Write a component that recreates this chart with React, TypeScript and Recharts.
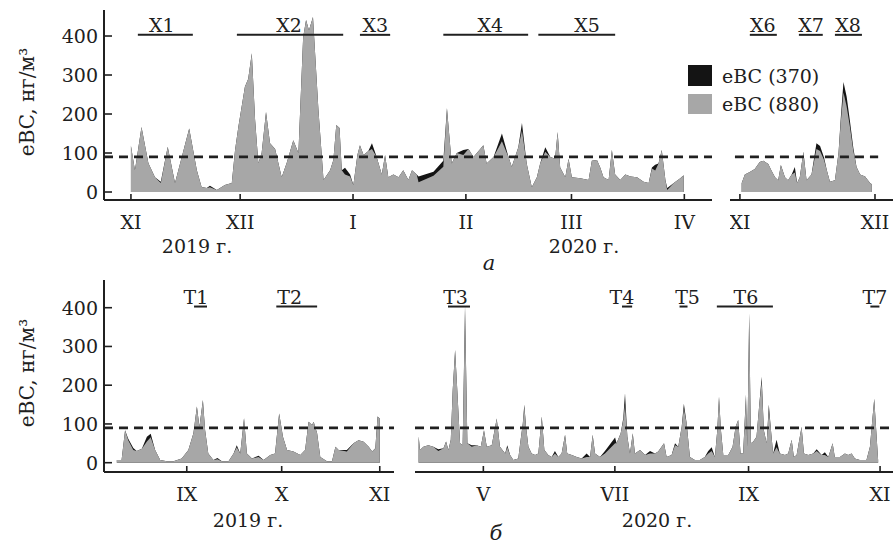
import { AreaChart, Area, XAxis, YAxis, ReferenceLine, ReferenceDot } from "recharts";

const INK = "#202020";
const GRAY = "#a7a7a7";
const DARK = "#141414";
const FONT = "'DejaVu Serif', 'Liberation Serif', serif";

// а) winter 2019-2020, day 0 = 1 Nov 2019
const winterDays = [
  0, 1.1, 2.9, 4.8, 6.6, 8.2, 10.1, 12.1, 16.0, 18.1,
  19.4, 20.8, 21.7, 23.6, 25.8, 27.7, 28.6, 29.5, 31.3, 32.2,
  33.2, 34.1, 35.0, 35.9, 37.1, 38.2, 39.6, 41.4, 42.8, 44.6,
  46.0, 47.3, 48.1, 48.9, 50.0, 51.5, 52.9, 54.7, 55.6, 56.4,
  57.3, 57.9, 58.8, 60.2, 61.1, 62.2, 62.9, 63.9, 65.2, 66.2,
  67.5, 68.9, 69.8, 70.7, 72.1, 73.5, 74.8, 76.2, 77.2, 78.5,
  79.0, 83.1, 85.8, 86.8, 88.1, 89.5, 91.3, 92.7, 94.1, 96.8,
  97.7, 99.6, 101.9, 103.7, 104.6, 106.4, 107.4, 108.7, 110.1, 111.5,
  112.4, 113.8, 115.2, 116.5, 117.2, 117.9, 119.3, 120.2, 121.1, 123.4,
  125.7, 126.6, 128.0, 128.9, 129.8, 131.2, 132.1, 133.0, 134.4, 135.8,
  137.2, 139.0, 140.8, 142.2, 143.1, 144.0, 144.9, 145.8, 146.8, 147.3,
  149.1, 150.9, 151.8,
];
const winter880 = [
  120, 56, 167, 74, 38, 23, 116, 23, 163, 56,
  13, 10, 12, 5, 18, 23, 108, 167, 270, 290,
  356, 185, 74, 100, 205, 125, 110, 38, 75, 133,
  100, 397, 441, 415, 449, 210, 31, 56, 82, 172,
  164, 56, 45, 40, 18, 95, 120, 95, 105, 110,
  90, 45, 95, 38, 45, 38, 56, 31, 56, 45,
  25, 42, 65, 215, 73, 100, 95, 110, 90, 120,
  73, 90, 130, 90, 65, 115, 158, 73, 12, 38,
  73, 103, 90, 85, 154, 63, 38, 85, 38, 35,
  31, 80, 82, 63, 38, 31, 108, 45, 31, 45,
  40, 38, 26, 23, 60, 55, 73, 108, 31, 5,
  23, 35, 43,
];
const winter370 = [
  118, 56, 167, 74, 38, 26, 116, 23, 163, 56,
  13, 10, 16, 5, 18, 23, 108, 167, 270, 290,
  356, 185, 74, 100, 205, 125, 110, 38, 75, 133,
  100, 397, 441, 415, 449, 210, 31, 56, 82, 172,
  164, 56, 62, 45, 18, 95, 120, 95, 105, 125,
  90, 45, 95, 38, 45, 38, 56, 31, 56, 45,
  40, 52, 80, 215, 73, 100, 108, 110, 90, 120,
  73, 90, 150, 90, 65, 115, 177, 73, 12, 38,
  73, 115, 90, 85, 154, 63, 38, 85, 38, 35,
  31, 80, 82, 63, 38, 31, 108, 45, 31, 45,
  40, 38, 26, 23, 63, 70, 73, 108, 31, 10,
  23, 35, 43,
];
const winterTicks = [0, 30, 61, 92, 121, 152];
const winterMonths = ["XI", "XII", "I", "II", "III", "IV"];
const winterEpisodes = ["X1", "X2", "X3", "X4", "X5"];
const winterEpisodeStart = [1.9, 29.1, 62.9, 85.8, 111.9];
const winterEpisodeEnd = [17.0, 58.3, 71.2, 109.1, 133.0];
const winterEpisodeLabel = [8.5, 43.4, 67.1, 98.7, 125.3];

// а) November 2020, day 0 = 1 Nov 2020
const novDays = [
  0.4, 1.1, 2.2, 3.3, 4.4, 5.2, 6.3, 7.0, 7.8, 8.5,
  9.1, 10.0, 10.7, 11.5, 12.2, 12.7, 13.3, 14.1, 14.8, 15.9,
  17.0, 17.8, 18.7, 19.3, 20.0, 21.1, 21.9, 22.4, 23.0, 23.7,
  24.4, 25.2, 25.9, 26.7, 27.8, 28.9, 29.3,
];
const nov880 = [
  23, 45, 51, 59, 77, 80, 72, 55, 38, 30,
  69, 38, 30, 45, 50, 23, 38, 103, 30, 45,
  110, 105, 82, 56, 26, 30, 100, 180, 255, 220,
  170, 105, 64, 45, 40, 23, 20,
];
const nov370 = [
  23, 45, 51, 59, 77, 80, 72, 55, 38, 30,
  69, 38, 30, 45, 64, 23, 38, 103, 30, 45,
  125, 118, 88, 56, 26, 30, 100, 190, 282, 245,
  185, 112, 64, 45, 40, 23, 20,
];
const novTicks = [0, 30];
const novMonths = ["XI", "XII"];
const novEpisodes = ["X6", "X7", "X8"];
const novEpisodeStart = [2.2, 13.1, 21.1];
const novEpisodeEnd = [8.2, 18.4, 27.1];
const novEpisodeLabel = [5.1, 15.8, 24.0];

// б) Aug-Oct 2019, day 0 = 1 Aug 2019
const warm19Days = [
  8.9, 10.4, 11.5, 12.5, 14.1, 15.2, 16.8, 18.4, 19.6, 21.0,
  22.6, 24.7, 26.8, 29.4, 31.5, 33.1, 34.2, 35.0, 36.1, 36.8,
  37.8, 39.4, 40.7, 42.1, 44.2, 45.8, 46.8, 47.9, 49.1, 50.0,
  51.6, 53.7, 55.3, 57.4, 58.9, 60.2, 61.4, 62.7, 64.7, 66.9,
  68.4, 69.5, 70.6, 71.1, 72.2, 73.2, 75.3, 76.9, 78.0, 79.0,
  81.6, 83.7, 85.3, 86.9, 88.5, 89.6, 90.6, 91.3, 92.0,
];
const warm19_880 = [
  7, 7, 84, 58, 33, 30, 36, 55, 66, 33,
  7, 4, 4, 11, 33, 76, 145, 93, 162, 84,
  24, 7, 9, 4, 4, 24, 40, 24, 115, 24,
  11, 15, 7, 20, 24, 127, 67, 33, 29, 20,
  33, 106, 97, 106, 76, 15, 4, 4, 41, 33,
  29, 50, 58, 54, 41, 29, 37, 119, 114,
];
const warm19_370 = [
  7, 7, 84, 62, 38, 30, 36, 67, 75, 33,
  7, 4, 4, 11, 33, 76, 145, 93, 162, 84,
  24, 7, 12, 4, 4, 24, 45, 24, 115, 24,
  11, 18, 7, 20, 24, 127, 67, 33, 29, 20,
  33, 106, 97, 106, 76, 15, 4, 4, 41, 33,
  33, 50, 58, 54, 41, 29, 37, 119, 114,
];
const warm19Ticks = [31, 61, 92];
const warm19Months = ["IX", "X", "XI"];
const warm19Episodes = ["T1", "T2"];
const warm19EpisodeStart = [33.3, 59.3];
const warm19EpisodeEnd = [37.4, 72.2];
const warm19EpisodeLabel = [33.9, 63.5];

// б) Apr-Oct 2020, day 0 = 1 Apr 2020
const warm20Days = [
  0, 0.6, 2.2, 4.5, 6.8, 9.1, 11.5, 12.7, 13.8, 14.9,
  15.8, 16.9, 17.9, 19.2, 20.4, 21.5, 22.6, 24.6, 26.9, 28.8,
  30.3, 31.6, 33.9, 36.2, 37.7, 40.1, 41.1, 42.4, 43.9, 46.2,
  47.3, 48.3, 49.0, 49.8, 50.9, 52.4, 54.0, 55.5, 57.1, 58.3,
  60.1, 61.7, 63.2, 64.8, 66.3, 67.9, 68.9, 71.0, 73.3, 75.6,
  77.9, 79.5, 80.7, 81.8, 84.1, 86.4, 91.1, 91.8, 93.7, 94.9,
  95.7, 96.8, 98.0, 99.3, 100.3, 102.7, 105.0, 107.3, 109.6, 111.1,
  113.8, 115.0, 117.3, 118.9, 120.4, 122.0, 123.0, 124.3, 125.8, 128.1,
  130.4, 132.7, 134.3, 135.9, 137.4, 138.5, 139.3, 140.2, 141.3, 143.6,
  145.6, 147.0, 148.2, 149.3, 150.5, 151.8, 152.4, 153.3, 154.1, 155.2,
  156.7, 157.9, 159.1, 160.1, 161.4, 162.4, 163.4, 164.4, 166.0, 167.5,
  169.9, 171.4, 173.0, 174.0, 175.3, 177.6, 178.7, 180.7, 183.0, 184.6,
  186.9, 188.4, 190.0, 192.0, 193.0, 195.4, 197.7, 199.2, 200.8, 202.3,
  204.6, 207.7, 209.3, 210.4, 211.3, 212.4, 213.1,
];
const warm20_880 = [
  68, 33, 41, 45, 41, 30, 37, 55, 33, 59,
  188, 291, 188, 50, 45, 395, 50, 41, 45, 41,
  84, 41, 45, 114, 41, 24, 40, 20, 7, 11,
  59, 101, 145, 93, 41, 24, 20, 24, 119, 33,
  20, 15, 24, 15, 24, 72, 24, 20, 15, 11,
  15, 15, 72, 24, 15, 24, 50, 50, 76, 110,
  150, 67, 24, 76, 24, 33, 20, 24, 24, 29,
  50, 15, 20, 45, 41, 93, 140, 101, 15, 7,
  7, 15, 24, 30, 15, 84, 170, 84, 20, 20,
  41, 93, 110, 24, 24, 170, 41, 385, 50, 55,
  67, 145, 210, 84, 50, 140, 84, 24, 40, 24,
  20, 24, 59, 15, 20, 93, 24, 20, 24, 30,
  20, 20, 15, 50, 15, 15, 24, 20, 24, 11,
  7, 7, 41, 110, 165, 67, 7,
];
const warm20_370 = [
  68, 33, 41, 45, 41, 35, 37, 55, 33, 59,
  188, 291, 188, 50, 45, 405, 50, 45, 45, 41,
  84, 41, 45, 114, 41, 24, 45, 20, 7, 11,
  59, 101, 150, 93, 41, 24, 20, 24, 119, 33,
  20, 15, 30, 15, 24, 72, 24, 20, 15, 11,
  24, 15, 72, 24, 15, 30, 65, 50, 76, 115,
  179, 67, 24, 76, 24, 33, 20, 30, 24, 29,
  50, 15, 20, 50, 41, 93, 152, 101, 15, 7,
  7, 15, 30, 40, 15, 84, 170, 84, 20, 20,
  41, 93, 110, 24, 24, 176, 41, 385, 50, 55,
  67, 145, 222, 84, 50, 150, 84, 24, 59, 24,
  20, 24, 59, 15, 20, 93, 24, 20, 24, 35,
  20, 27, 15, 50, 15, 15, 24, 20, 24, 11,
  7, 7, 41, 110, 165, 67, 7,
];
const warm20Ticks = [30, 91, 153, 214];
const warm20Months = ["V", "VII", "IX", "XI"];
const warm20Episodes = ["T3", "T4", "T5", "T6", "T7"];
const warm20EpisodeStart = [13.6, 94.3, 121.0, 138.3, 209.5];
const warm20EpisodeEnd = [23.8, 99.0, 124.7, 164.3, 213.7];
const warm20EpisodeLabel = [17.1, 94.3, 124.7, 151.8, 211.6];

const valueTicks = [0, 100, 200, 300, 400];
const threshold = 90;
const episodeLevel = 403;

function MonthTick({ x, y, payload, ticks, months }: any) {
  const name = months[ticks.indexOf(payload.value)];
  return (
    <g>
      <line x1={x} y1={y} x2={x} y2={y - 6} stroke={INK} strokeWidth={1.6} />
      <text x={x} y={y + 29} textAnchor="middle" fill={INK} fontSize={19} fontFamily={FONT}>
        {name}
      </text>
    </g>
  );
}

function ValueTick({ x, y, payload }: any) {
  return (
    <g>
      <line x1={x} y1={y} x2={x + 8} y2={y} stroke={INK} strokeWidth={1.6} />
      <text x={x - 6} y={y} dy="0.36em" textAnchor="end" fill={INK} fontSize={19} fontFamily={FONT}>
        {payload.value}
      </text>
    </g>
  );
}

function Panel(p: any) {
  const rows = p.days.map((day: number, i: number) => ({ day, c880: p.v880[i], c370: p.v370[i] }));
  return (
    <div style={{ position: "absolute", left: p.left, top: p.top }}>
      <AreaChart
        width={p.width}
        height={10 + p.plotHeight + 42}
        data={rows}
        margin={{ top: 10, right: 0, bottom: 0, left: 0 }}
      >
        <XAxis
          type="number"
          dataKey="day"
          domain={p.xDomain}
          allowDataOverflow
          ticks={p.ticks}
          interval={0}
          height={42}
          tickLine={false}
          tickSize={0}
          tickMargin={0}
          axisLine={{ stroke: INK, strokeWidth: 2 }}
          tick={(t: any) => <MonthTick {...t} ticks={p.ticks} months={p.months} />}
        />
        {p.showY ? (
          <YAxis
            type="number"
            domain={p.yDomain}
            allowDataOverflow
            ticks={valueTicks}
            interval={0}
            width={104}
            tickLine={false}
            tickSize={0}
            tickMargin={0}
            axisLine={{ stroke: INK, strokeWidth: 2 }}
            tick={(t: any) => <ValueTick {...t} />}
          />
        ) : (
          <YAxis type="number" hide domain={p.yDomain} allowDataOverflow />
        )}
        <Area
          type="linear"
          dataKey="c370"
          name="eBC (370)"
          stroke="none"
          fill={DARK}
          fillOpacity={1}
          baseValue={0}
          dot={false}
          activeDot={false}
          isAnimationActive={false}
        />
        <Area
          type="linear"
          dataKey="c880"
          name="eBC (880)"
          stroke="none"
          fill={GRAY}
          fillOpacity={1}
          baseValue={0}
          dot={false}
          activeDot={false}
          isAnimationActive={false}
        />
        {p.dash ? (
          <ReferenceLine
            segment={[
              { x: p.dash[0], y: threshold },
              { x: p.dash[1], y: threshold },
            ]}
            stroke={INK}
            strokeWidth={2.6}
            strokeDasharray="9 6"
          />
        ) : (
          <ReferenceLine y={threshold} stroke={INK} strokeWidth={2.6} strokeDasharray="9 6" />
        )}
        {p.episodes.map((name: string, i: number) => (
          <ReferenceLine
            key={"l" + name}
            segment={[
              { x: p.starts[i], y: episodeLevel },
              { x: p.ends[i], y: episodeLevel },
            ]}
            stroke={INK}
            strokeWidth={2}
          />
        ))}
        {p.episodes.map((name: string, i: number) => (
          <ReferenceDot
            key={"t" + name}
            x={p.labelAt[i]}
            y={episodeLevel}
            r={0}
            fill="none"
            stroke="none"
            label={{ value: name, position: "top", offset: 3, fill: INK, fontSize: 19, fontFamily: FONT }}
          />
        ))}
      </AreaChart>
    </div>
  );
}

export default function App() {
  const txt = { fill: INK, fontFamily: FONT, fontSize: 19 } as const;
  return (
    <div style={{ position: "absolute", left: 0, top: 0, width: 893, height: 547, background: "#fff", overflow: "hidden" }}>
      <Panel
        left={0}
        top={0}
        width={712}
        plotHeight={190}
        showY
        xDomain={[-7.4, 159.6]}
        yDomain={[-20.5, 466.7]}
        days={winterDays}
        v880={winter880}
        v370={winter370}
        ticks={winterTicks}
        months={winterMonths}
        episodes={winterEpisodes}
        starts={winterEpisodeStart}
        ends={winterEpisodeEnd}
        labelAt={winterEpisodeLabel}
      />
      <Panel
        left={730}
        top={0}
        width={163}
        plotHeight={190}
        xDomain={[-2.2, 34]}
        yDomain={[-20.5, 466.7]}
        dash={[-1.1, 30.7]}
        days={novDays}
        v880={nov880}
        v370={nov370}
        ticks={novTicks}
        months={novMonths}
        episodes={novEpisodes}
        starts={novEpisodeStart}
        ends={novEpisodeEnd}
        labelAt={novEpisodeLabel}
      />
      <Panel
        left={0}
        top={270}
        width={394}
        plotHeight={192}
        showY
        xDomain={[4.84, 96.5]}
        yDomain={[-24, 471.5]}
        days={warm19Days}
        v880={warm19_880}
        v370={warm19_370}
        ticks={warm19Ticks}
        months={warm19Months}
        episodes={warm19Episodes}
        starts={warm19EpisodeStart}
        ends={warm19EpisodeEnd}
        labelAt={warm19EpisodeLabel}
      />
      <Panel
        left={415}
        top={270}
        width={478}
        plotHeight={192}
        xDomain={[-1.7, 220]}
        yDomain={[-24, 471.5]}
        days={warm20Days}
        v880={warm20_880}
        v370={warm20_370}
        ticks={warm20Ticks}
        months={warm20Months}
        episodes={warm20Episodes}
        starts={warm20EpisodeStart}
        ends={warm20EpisodeEnd}
        labelAt={warm20EpisodeLabel}
      />
      <svg width={893} height={547} style={{ position: "absolute", left: 0, top: 0, pointerEvents: "none" }}>
        <text {...txt} fontSize={20} transform="translate(34,102) rotate(-90)" textAnchor="middle">eBC, нг/м³</text>
        <text {...txt} fontSize={20} transform="translate(34,373) rotate(-90)" textAnchor="middle">eBC, нг/м³</text>
        <text {...txt} x={197} y={253} textAnchor="middle">2019 г.</text>
        <text {...txt} x={584} y={253} textAnchor="middle">2020 г.</text>
        <text {...txt} x={489} y={270} textAnchor="middle" fontStyle="italic" fontSize={21}>а</text>
        <text {...txt} x={248} y={527} textAnchor="middle">2019 г.</text>
        <text {...txt} x={657} y={527} textAnchor="middle">2020 г.</text>
        <text {...txt} x={496} y={540} textAnchor="middle" fontStyle="italic" fontSize={21}>б</text>
        <rect x={688} y={65} width={24} height={21} fill={DARK} />
        <rect x={688} y={94} width={24} height={20} fill={GRAY} />
        <text {...txt} x={722} y={83}>eBC (370)</text>
        <text {...txt} x={722} y={111}>eBC (880)</text>
      </svg>
    </div>
  );
}
